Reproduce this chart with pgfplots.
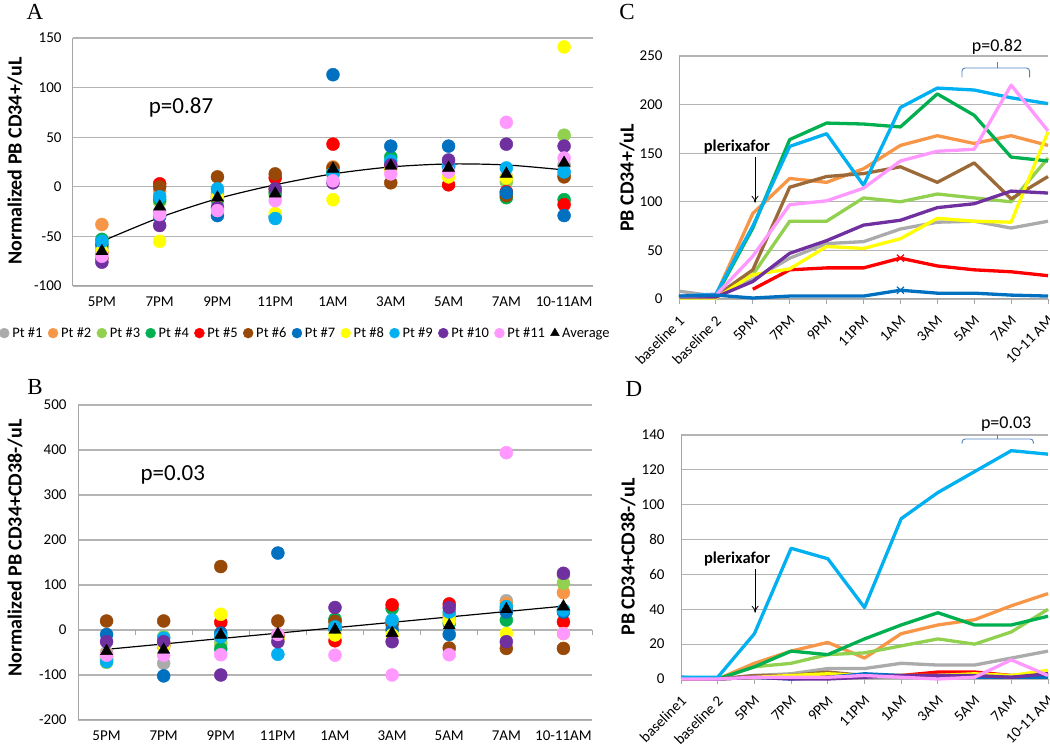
\documentclass[border=0pt]{standalone}
\usepackage{fontspec}
\setmainfont{Carlito}
\newfontfamily\seriffont{Liberation Serif}
\usepackage{pgfplots}
\pgfplotsset{compat=1.18}
\usepackage{pgfplotstable}
\usetikzlibrary{arrows.meta}

\definecolor{cA}{HTML}{ABABAB}
\definecolor{cB}{HTML}{F79646}
\definecolor{cC}{HTML}{92D050}
\definecolor{cD}{HTML}{00B050}
\definecolor{cE}{HTML}{FF0000}
\definecolor{cF}{HTML}{984807}
\definecolor{cFl}{HTML}{9C6A38}
\definecolor{cG}{HTML}{0070C0}
\definecolor{cH}{HTML}{FFFF00}
\definecolor{cI}{HTML}{00B0F0}
\definecolor{cJ}{HTML}{7030A0}
\definecolor{cK}{HTML}{FF99FF}
\definecolor{gridgray}{HTML}{B4B4B4}
\definecolor{axgray}{HTML}{A6A6A6}
\definecolor{braceblue}{HTML}{4F81BD}

% normalized CD34+ (panel A)
\pgfplotstableread{
x p1 p2 p3 p4 p5 p6 p7 p8 p9 p10 p11 avg
0 -62 -38 -60 -53 -66 -72 -58 -65 -55 -76 -70 -65
1 -25 -5 -15 -13 3 0 -30 -55 -10 -39 -28 -20
2 -6 -8 -15 -12 -10 10 -29 -10 -2 -21 -24 -11
3 -4 -3 -8 -6 9 13 -30 -27 -32 -2 -14 -7
4 12 20 15 14 43 19 113 -13 14 4 6 18
5 18 20 22 30 20 4 41 18 26 22 13 21
6 24 20 18 20 2 22 41 10 21 27 15 19
7 10 -8 5 -11 -5 -9 -6 9 19 43 65 13
8 22 12 52 -13 -18 10 -29 141 15 41 29 24
}\dataA

% normalized CD34+CD38- (panel B)
\pgfplotstableread{
x p1 p2 p3 p4 p5 p6 p7 p8 p9 p10 p11 avg
0 -50 -55 -72 -65 -60 20 -10 -60 -70 -26 -56 -47
1 -74 -30 -15 -35 -35 20 -102 -35 -18 -26 -56 -44
2 -20 -15 -30 -42 17 141 -7 35 -15 -100 -55 -11
3 -10 -12 -20 -15 -12 20 171 -20 -54 -26 -10 -9
4 5 10 20 24 -24 19 2 -11 7 50 -56 0
5 10 15 20 48 56 15 0 -11 22 -26 -100 -7
6 25 30 35 15 58 -40 -10 20 40 50 -55 10
7 65 59 50 22 45 -41 40 -8 52 -26 394 46
8 122 83 104 44 18 -41 40 -8 44 126 -8 52
}\dataB

% PB CD34+/uL (panel C)
\pgfplotstableread{
x p1 p2 p3 p4 p5 p6 p7 p8 p9 p10 p11
0 8 2 2 2 nan 2 3 1 3 2 3
1 3 4 3 3 nan 3 4 1 5 2 4
2 20 88 25 73 10 30 1 25 75 18 44
3 42 124 80 164 30 115 3 31 157 47 97
4 57 120 80 181 32 126 3 54 170 60 101
5 59 134 104 180 32 129 3 52 117 76 114
6 72 158 100 177 42 136 9 62 197 81 142
7 79 168 108 211 34 120 6 83 217 94 152
8 80 160 104 189 30 140 6 80 215 98 154
9 73 168 100 146 28 103 4 79 207 111 220
10 80 158 145 142 24 126 3 172 201 109 173
}\dataC

% PB CD34+CD38-/uL (panel D)
\pgfplotstableread{
x p1 p2 p3 p4 p5 p6 p7 p8 p9 p10 p11
0 0 0 0 0 0 0 1 0 1 0 0
1 0 0 0 0 0 0 0 0 1 0 0
2 2 9 7 7 1 2 1 1 26 1 1
3 3 16 9 16 2 2 0 2 75 0 1
4 6 21 14 14 2 4 1 3 69 0 1
5 6 12 15 23 2 2 3 2 41 1 2
6 9 26 19 31 2 2 2 2 92 2 1
7 8 31 23 38 4 2 1 2 107 2 0
8 8 34 20 31 4 2 1 3 119 2 1
9 12 42 27 31 2 2 1 2 131 1 11
10 16 49 40 36 3 1 1 5 129 3 2
}\dataD

\pgfplotsset{
  xl/.style={scale only axis, axis lines*=left,
    axis line style={draw=axgray, line width=1pt},
    ymajorgrids, grid style={gridgray, line width=1.1pt},
    tick label style={font=\fontsize{15}{17}\selectfont},
    /pgf/number format/assume math mode=true,
    ytick style={draw=none}, clip=false},
  dots/.style={only marks, mark=*, mark size=6.5pt, color=#1},
  ln/.style={no markers, line width=3.3pt, line join=round, color=#1},
  rotlab/.style={xticklabel style={xshift=5pt, yshift=-12pt, rotate=45, anchor=east}},
}

\begin{document}
\begin{tikzpicture}[x=1pt,y=1pt]
\useasboundingbox (0,0) rectangle (1050,744);

% ---------------- A ----------------
\begin{axis}[xl, at={(73pt,458pt)}, anchor=south west, width=520pt, height=248pt,
  xmin=-0.5, xmax=8.5, ymin=-100, ymax=150, ytick={-100,-50,...,150},
  xtick={0,...,8}, xticklabels={5PM,7PM,9PM,11PM,1AM,3AM,5AM,7AM,10-11AM},
  xtick style={draw=none}, xticklabel style={yshift=-7pt},
  yticklabel style={xshift=-8pt},
  legend style={at={(0.447,-0.19)}, anchor=center, draw=none, fill=none,
    font=\fontsize{14.5}{16}\selectfont, legend columns=-1,
    /tikz/every odd column/.append style={column sep=1pt},
    /tikz/every even column/.append style={column sep=3.5pt}},
  legend image code/.code={\draw[#1, mark size=5pt] plot coordinates {(5pt,0pt)};},
]
\addplot[dots=cA] table[x=x,y=p1]{\dataA}; \addlegendentry{Pt \#1}
\addplot[dots=cB] table[x=x,y=p2]{\dataA}; \addlegendentry{Pt \#2}
\addplot[dots=cC] table[x=x,y=p3]{\dataA}; \addlegendentry{Pt \#3}
\addplot[dots=cD] table[x=x,y=p4]{\dataA}; \addlegendentry{Pt \#4}
\addplot[dots=cE] table[x=x,y=p5]{\dataA}; \addlegendentry{Pt \#5}
\addplot[dots=cF] table[x=x,y=p6]{\dataA}; \addlegendentry{Pt \#6}
\addplot[dots=cG] table[x=x,y=p7]{\dataA}; \addlegendentry{Pt \#7}
\addplot[dots=cH] table[x=x,y=p8]{\dataA}; \addlegendentry{Pt \#8}
\addplot[dots=cI] table[x=x,y=p9]{\dataA}; \addlegendentry{Pt \#9}
\addplot[dots=cJ] table[x=x,y=p10]{\dataA}; \addlegendentry{Pt \#10}
\addplot[dots=cK] table[x=x,y=p11]{\dataA}; \addlegendentry{Pt \#11}
\addplot[black, smooth, line width=1.2pt, forget plot] coordinates {
  (0,-55) (1,-31) (2,-12) (3,2) (4,13) (5,20) (6,23) (7,22) (8,17)};
\addplot[only marks, mark=triangle*, mark size=7pt, black] table[x=x,y=avg]{\dataA};
\addlegendentry{Average}
\node[font=\fontsize{23}{26}\selectfont] at (axis cs:1.37,80) {p=0.87};
\end{axis}

% ---------------- B ----------------
\begin{axis}[xl, at={(78pt,24pt)}, anchor=south west, width=514pt, height=315pt,
  xmin=-0.5, xmax=8.5, ymin=-200, ymax=500, ytick={-200,-100,...,500},
  xtick={0,...,8}, xticklabels={5PM,7PM,9PM,11PM,1AM,3AM,5AM,7AM,10-11AM},
  xtick style={draw=none}, xticklabel style={yshift=-7pt},
  yticklabel style={xshift=-8pt},
]
\pgfplotsinvokeforeach{0.5,1.5,2.5,3.5,4.5,5.5,6.5,7.5,8.5}{
  \draw[axgray, line width=1pt] (axis cs:#1,0) -- ++(0pt,-5pt);}
\addplot[dots=cA] table[x=x,y=p1]{\dataB};
\addplot[dots=cB] table[x=x,y=p2]{\dataB};
\addplot[dots=cC] table[x=x,y=p3]{\dataB};
\addplot[dots=cD] table[x=x,y=p4]{\dataB};
\addplot[dots=cE] table[x=x,y=p5]{\dataB};
\addplot[dots=cF] table[x=x,y=p6]{\dataB};
\addplot[dots=cG] table[x=x,y=p7]{\dataB};
\addplot[dots=cH] table[x=x,y=p8]{\dataB};
\addplot[dots=cI] table[x=x,y=p9]{\dataB};
\addplot[dots=cJ] table[x=x,y=p10]{\dataB};
\addplot[dots=cK] table[x=x,y=p11]{\dataB};
\addplot[black, line width=1.2pt] coordinates {(0,-43) (8,53)};
\addplot[only marks, mark=triangle*, mark size=7pt, black] table[x=x,y=avg]{\dataB};
\node[font=\fontsize{23}{26}\selectfont] at (axis cs:1.16,344) {p=0.03};
\end{axis}

% ---------------- C ----------------
\begin{axis}[xl, rotlab, at={(679pt,445pt)}, anchor=south west, width=369pt, height=243pt,
  xmin=0, xmax=10, ymin=0, ymax=250, ytick={0,50,...,250},
  xtick={0,...,10},
  xticklabels={baseline 1,baseline 2,5PM,7PM,9PM,11PM,1AM,3AM,5AM,7AM,10-11 AM},
  tick align=outside, xtick style={draw=axgray, line width=1pt}, major tick length=5pt,
  yticklabel style={xshift=-8pt},
]
\addplot[ln=cA] table[x=x,y=p1]{\dataC};
\addplot[ln=cB] table[x=x,y=p2]{\dataC};
\addplot[ln=cC] table[x=x,y=p3]{\dataC};
\addplot[ln=cD] table[x=x,y=p4]{\dataC};
\addplot[ln=cE] table[x=x,y=p5]{\dataC};
\addplot[ln=cFl] table[x=x,y=p6]{\dataC};
\addplot[ln=cH] table[x=x,y=p8]{\dataC};
\addplot[ln=cI] table[x=x,y=p9]{\dataC};
\addplot[ln=cJ] table[x=x,y=p10]{\dataC};
\addplot[ln=cK] table[x=x,y=p11]{\dataC};
\addplot[ln=cG] table[x=x,y=p7]{\dataC};
\addplot[only marks, mark=x, mark size=5pt, cE, line width=1.2pt] coordinates {(6,42)};
\addplot[only marks, mark=x, mark size=5pt, cG, line width=1.2pt] coordinates {(6,9)};
\node[font=\bfseries\fontsize{16.5}{18}\selectfont] at (axis cs:1.57,156) {plerixafor};
\draw[-{To[length=7pt,width=7pt]}, line width=0.8pt] (axis cs:2.06,146) -- (axis cs:2.06,99);
\draw[braceblue, line width=0.9pt, rounded corners=3pt]
  (axis cs:7.67,228) -- (axis cs:7.67,237.6) -- (axis cs:9.5,237.6) -- (axis cs:9.5,228);
\draw[braceblue, line width=0.9pt] (axis cs:8.62,237.6) -- (axis cs:8.62,244);
\node[font=\fontsize{18}{20}\selectfont] at (axis cs:8.62,259) {p=0.82};
\end{axis}

% ---------------- D ----------------
\begin{axis}[xl, rotlab, at={(681pt,65pt)}, anchor=south west, width=367pt, height=244pt,
  xmin=0, xmax=10, ymin=0, ymax=140, ytick={0,20,...,140},
  xtick={0,...,10},
  xticklabels={baseline1,baseline 2,5PM,7PM,9PM,11PM,1AM,3AM,5AM,7AM,10-11 AM},
  tick align=outside, xtick style={draw=axgray, line width=1pt}, major tick length=5pt,
  yticklabel style={xshift=-8pt},
]
\addplot[ln=cA] table[x=x,y=p1]{\dataD};
\addplot[ln=cB] table[x=x,y=p2]{\dataD};
\addplot[ln=cC] table[x=x,y=p3]{\dataD};
\addplot[ln=cD] table[x=x,y=p4]{\dataD};
\addplot[ln=cE] table[x=x,y=p5]{\dataD};
\addplot[ln=cFl] table[x=x,y=p6]{\dataD};
\addplot[ln=cH] table[x=x,y=p8]{\dataD};
\addplot[ln=cG] table[x=x,y=p7]{\dataD};
\addplot[ln=cJ] table[x=x,y=p10]{\dataD};
\addplot[ln=cI] table[x=x,y=p9]{\dataD};
\addplot[ln=cK] table[x=x,y=p11]{\dataD};
\node[font=\bfseries\fontsize{16.5}{18}\selectfont] at (axis cs:1.53,69) {plerixafor};
\draw[-{To[length=7pt,width=7pt]}, line width=0.8pt] (axis cs:2.02,63) -- (axis cs:2.02,38);
\draw[braceblue, line width=0.9pt, rounded corners=3pt]
  (axis cs:7.66,135) -- (axis cs:7.66,137.7) -- (axis cs:9.6,137.7) -- (axis cs:9.6,135);
\draw[braceblue, line width=0.9pt] (axis cs:8.61,137.7) -- (axis cs:8.61,140);
\node[font=\fontsize{18}{20}\selectfont] at (axis cs:8.86,146) {p=0.03};
\end{axis}

% panel letters and axis titles
\node[font=\seriffont\fontsize{23}{25}\selectfont] at (35,732) {A};
\node[font=\seriffont\fontsize{23}{25}\selectfont] at (35,357) {B};
\node[font=\seriffont\fontsize{23}{25}\selectfont] at (627,732) {C};
\node[font=\seriffont\fontsize{23}{25}\selectfont] at (634,355) {D};
\node[rotate=90, font=\bfseries\fontsize{20}{22}\selectfont] at (15,583) {Normalized PB CD34+/uL};
\node[rotate=90, font=\bfseries\fontsize{20}{22}\selectfont] at (15,196) {Normalized PB CD34+CD38-/uL};
\node[rotate=90, font=\bfseries\fontsize{20}{22}\selectfont] at (627,566) {PB CD34+/uL};
\node[rotate=90, font=\bfseries\fontsize{20}{22}\selectfont] at (628,187) {PB CD34+CD38-/uL};
\end{tikzpicture}
\end{document}
